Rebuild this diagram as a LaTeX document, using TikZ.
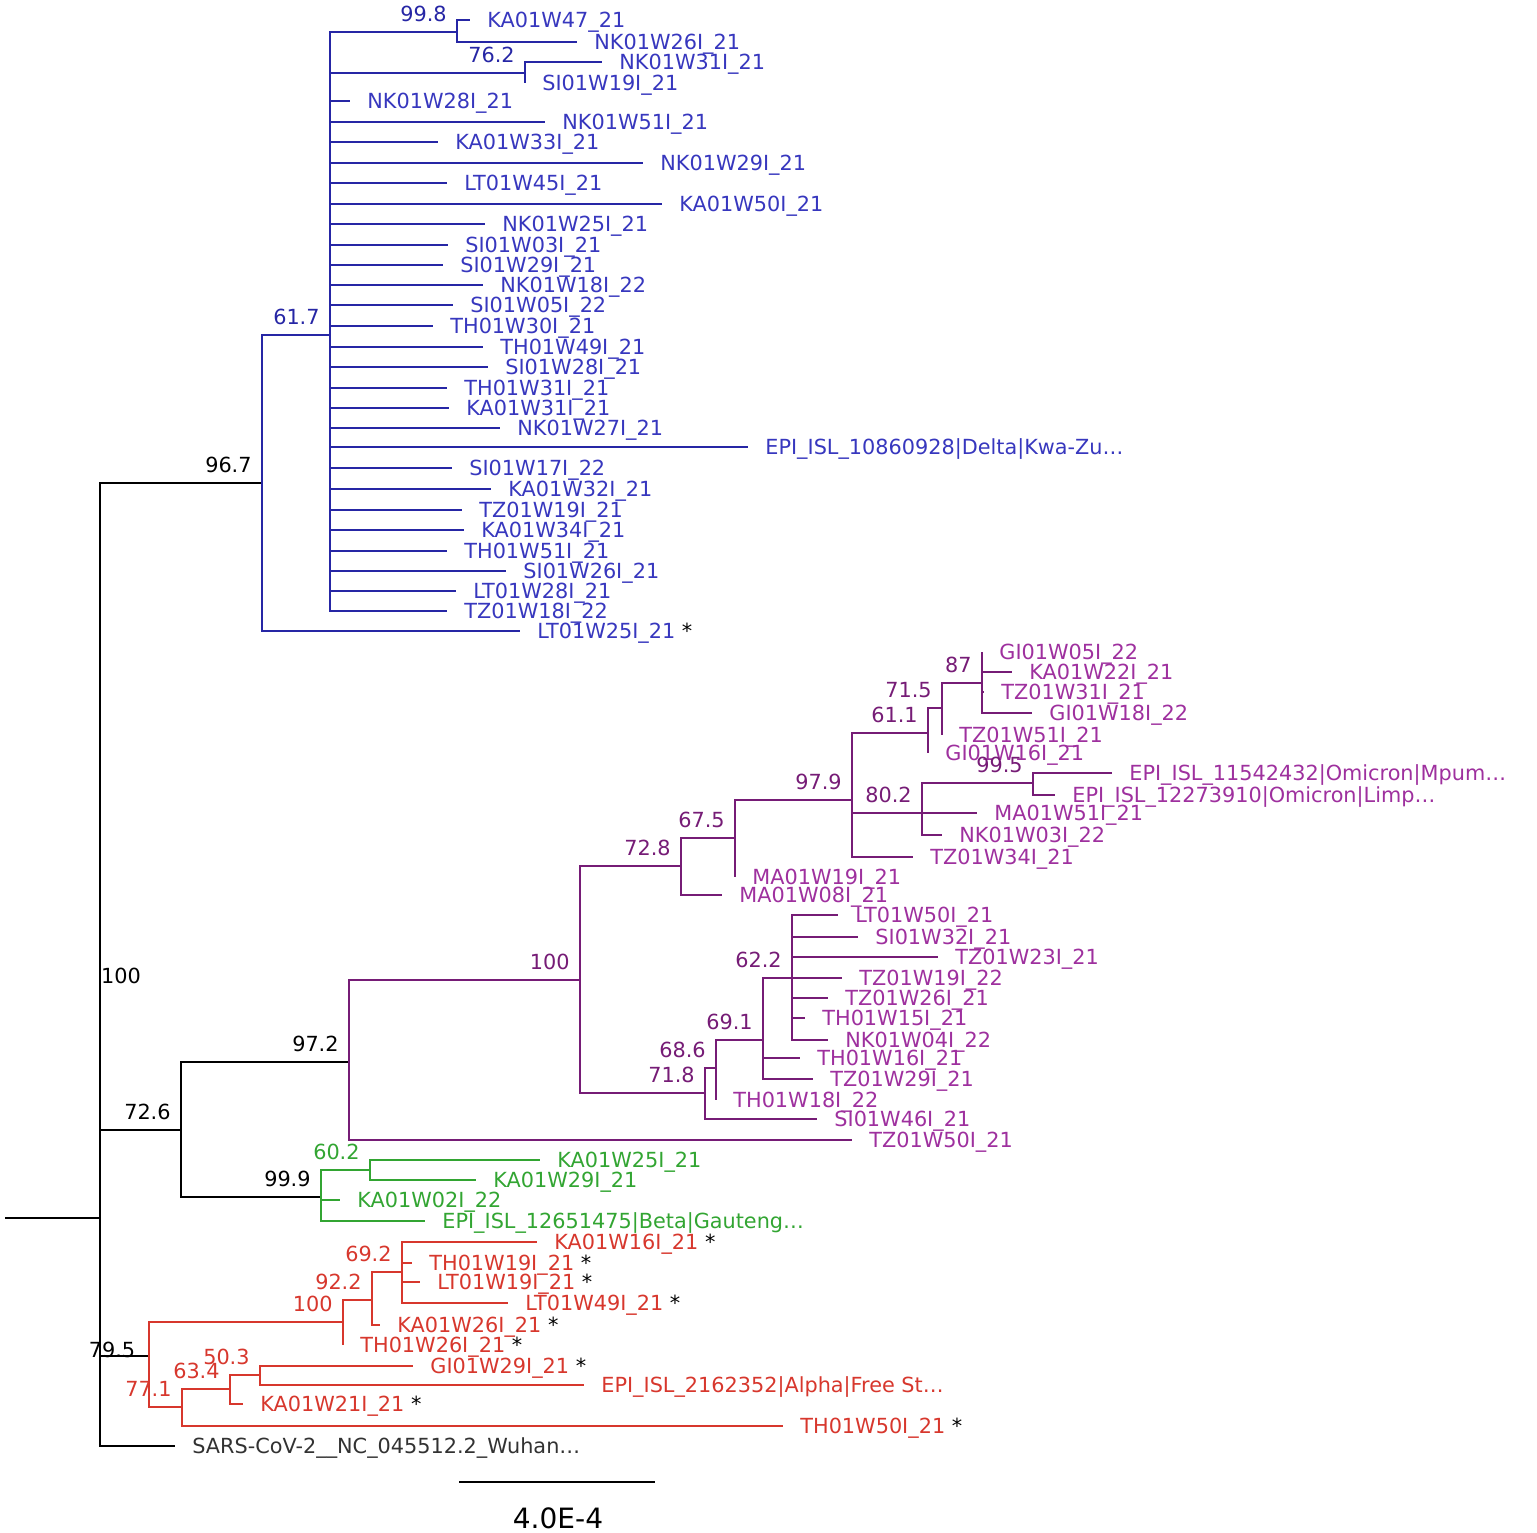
\documentclass[tikz,border=0pt]{standalone}
\usepackage{fontspec}
\setmainfont{DejaVu Sans}
\usepackage{tikz}
\definecolor{deltacol}{RGB}{38,38,165}
\definecolor{deltalab}{RGB}{55,55,190}
\definecolor{omicol}{RGB}{118,28,118}
\definecolor{omilab}{RGB}{158,48,158}
\definecolor{betacol}{RGB}{50,165,50}
\definecolor{alphacol}{RGB}{215,55,45}
\definecolor{outcol}{RGB}{50,50,50}
\newcommand*{\lab}{\fontsize{10.4}{12}\selectfont}
\newcommand*{\starmark}{\ \textcolor{black}{*}}

\begin{document}
\begin{tikzpicture}[x=0.5pt, y=-0.5pt, line width=1.4pt,
      leaf/.style={anchor=west, inner sep=0pt, inner xsep=8pt, text height=7.3pt, text depth=0pt, font=\lab},
      bs/.style={anchor=south east, inner sep=4.5pt, text depth=0pt, font=\lab}]
      \useasboundingbox (0,0) rectangle (1537,1532);

      % backbone
      \coordinate (root) at (5,1218);
      \coordinate (n_root) at (100,1218);
      \coordinate (n_967) at (262,483);
      \coordinate (n_726) at (181,1130);
      \coordinate (n_795) at (149,1356);
      \node[leaf, outcol] (SARS) at (175,1446) {SARS-CoV-2\_\_NC\_045512.2\_Wuhan…};
      \draw (root) -- (n_root);
      \draw (n_root) |- (n_967) (n_root) |- (n_726) (n_root) |- (n_795) (n_root) |- (SARS.west);
      \node[bs, anchor=center] (b_root) at (121,976) {100};
      \node[bs] (b_967) at (n_967) {96.7};
      \node[bs] (b_726) at (n_726) {72.6};
      \node[bs, anchor=center] (b_795) at (112,1350) {79.5};

      % Delta
      \coordinate (n_617) at (330,335);
      \coordinate (n_998) at (457,32);
      \coordinate (n_762) at (525,73);
      \node[leaf, deltalab] (KA01W47_21) at (470,20) {KA01W47\_21};
      \node[leaf, deltalab] (NK01W26I_21) at (577,42) {NK01W26I\_21};
      \node[leaf, deltalab] (NK01W31I_21) at (602,62) {NK01W31I\_21};
      \node[leaf, deltalab] (SI01W19I_21) at (525,83) {SI01W19I\_21};
      \node[leaf, deltalab] (NK01W28I_21) at (350,101) {NK01W28I\_21};
      \node[leaf, deltalab] (NK01W51I_21) at (545,122) {NK01W51I\_21};
      \node[leaf, deltalab] (KA01W33I_21) at (438,142) {KA01W33I\_21};
      \node[leaf, deltalab] (NK01W29I_21) at (643,163) {NK01W29I\_21};
      \node[leaf, deltalab] (LT01W45I_21) at (447,183) {LT01W45I\_21};
      \node[leaf, deltalab] (KA01W50I_21) at (662,204) {KA01W50I\_21};
      \node[leaf, deltalab] (NK01W25I_21) at (485,224) {NK01W25I\_21};
      \node[leaf, deltalab] (SI01W03I_21) at (448,245) {SI01W03I\_21};
      \node[leaf, deltalab] (SI01W29I_21) at (443,265) {SI01W29I\_21};
      \node[leaf, deltalab] (NK01W18I_22) at (483,285) {NK01W18I\_22};
      \node[leaf, deltalab] (SI01W05I_22) at (453,305) {SI01W05I\_22};
      \node[leaf, deltalab] (TH01W30I_21) at (433,326) {TH01W30I\_21};
      \node[leaf, deltalab] (TH01W49I_21) at (483,347) {TH01W49I\_21};
      \node[leaf, deltalab] (SI01W28I_21) at (488,367) {SI01W28I\_21};
      \node[leaf, deltalab] (TH01W31I_21) at (447,388) {TH01W31I\_21};
      \node[leaf, deltalab] (KA01W31I_21) at (449,408) {KA01W31I\_21};
      \node[leaf, deltalab] (NK01W27I_21) at (500,428) {NK01W27I\_21};
      \node[leaf, deltalab] (EPI_delta) at (748,447) {EPI\_ISL\_10860928|Delta|Kwa-Zu…};
      \node[leaf, deltalab] (SI01W17I_22) at (452,468) {SI01W17I\_22};
      \node[leaf, deltalab] (KA01W32I_21) at (491,489) {KA01W32I\_21};
      \node[leaf, deltalab] (TZ01W19I_21) at (462,510) {TZ01W19I\_21};
      \node[leaf, deltalab] (KA01W34I_21) at (464,530) {KA01W34I\_21};
      \node[leaf, deltalab] (TH01W51I_21) at (447,551) {TH01W51I\_21};
      \node[leaf, deltalab] (SI01W26I_21) at (506,571) {SI01W26I\_21};
      \node[leaf, deltalab] (LT01W28I_21) at (456,591) {LT01W28I\_21};
      \node[leaf, deltalab] (TZ01W18I_22) at (447,611) {TZ01W18I\_22};
      \node[leaf, deltalab] (LT01W25I_21) at (520,631) {LT01W25I\_21\starmark};
      \draw[deltacol] (n_967) |- (n_617) (n_967) |- (LT01W25I_21.west);
      \draw[deltacol] (n_998) |- (KA01W47_21.west) (n_998) |- (NK01W26I_21.west);
      \draw[deltacol] (n_762) |- (NK01W31I_21.west) (n_762) |- (SI01W19I_21.west);
      \draw[deltacol] (n_617) |- (n_998) (n_617) |- (n_762)
        (n_617) |- (NK01W28I_21.west) (n_617) |- (NK01W51I_21.west)
        (n_617) |- (KA01W33I_21.west) (n_617) |- (NK01W29I_21.west)
        (n_617) |- (LT01W45I_21.west) (n_617) |- (KA01W50I_21.west)
        (n_617) |- (NK01W25I_21.west) (n_617) |- (SI01W03I_21.west)
        (n_617) |- (SI01W29I_21.west) (n_617) |- (NK01W18I_22.west)
        (n_617) |- (SI01W05I_22.west) (n_617) |- (TH01W30I_21.west)
        (n_617) |- (TH01W49I_21.west) (n_617) |- (SI01W28I_21.west)
        (n_617) |- (TH01W31I_21.west) (n_617) |- (KA01W31I_21.west)
        (n_617) |- (NK01W27I_21.west) (n_617) |- (EPI_delta.west)
        (n_617) |- (SI01W17I_22.west) (n_617) |- (KA01W32I_21.west)
        (n_617) |- (TZ01W19I_21.west) (n_617) |- (KA01W34I_21.west)
        (n_617) |- (TH01W51I_21.west) (n_617) |- (SI01W26I_21.west)
        (n_617) |- (LT01W28I_21.west) (n_617) |- (TZ01W18I_22.west);
      \node[bs, deltacol] (b_617) at (n_617) {61.7};
      \node[bs, deltacol] (b_998) at (n_998) {99.8};
      \node[bs, deltacol] (b_762) at (n_762) {76.2};

      % Omicron
      \coordinate (n_972) at (349,1062);
      \coordinate (n_100p) at (580,980);
      \coordinate (n_728) at (681,866);
      \coordinate (n_675) at (735,838);
      \coordinate (n_979) at (852,800);
      \coordinate (n_611) at (928,733);
      \coordinate (n_715) at (942,708);
      \coordinate (n_87) at (982,683);
      \coordinate (n_802) at (922,813);
      \coordinate (n_995) at (1033,783);
      \coordinate (n_718) at (705,1093);
      \coordinate (n_686) at (716,1068);
      \coordinate (n_691) at (763,1040);
      \coordinate (n_622) at (792,978);
      \node[leaf, omilab] (GI01W05I_22) at (982,652) {GI01W05I\_22};
      \node[leaf, omilab] (KA01W22I_21) at (1012,672) {KA01W22I\_21};
      \node[leaf, omilab] (TZ01W31I_21) at (984,692) {TZ01W31I\_21};
      \node[leaf, omilab] (GI01W18I_22) at (1032,713) {GI01W18I\_22};
      \node[leaf, omilab] (TZ01W51I_21) at (942,735) {TZ01W51I\_21};
      \node[leaf, omilab] (GI01W16I_21) at (928,753) {GI01W16I\_21};
      \node[leaf, omilab] (EPI_omi1) at (1112,773) {EPI\_ISL\_11542432|Omicron|Mpum…};
      \node[leaf, omilab] (EPI_omi2) at (1055,795) {EPI\_ISL\_12273910|Omicron|Limp…};
      \node[leaf, omilab] (MA01W51I_21) at (977,813) {MA01W51I\_21};
      \node[leaf, omilab] (NK01W03I_22) at (942,835) {NK01W03I\_22};
      \node[leaf, omilab] (TZ01W34I_21) at (913,857) {TZ01W34I\_21};
      \node[leaf, omilab] (MA01W19I_21) at (735,877) {MA01W19I\_21};
      \node[leaf, omilab] (MA01W08I_21) at (722,895) {MA01W08I\_21};
      \node[leaf, omilab] (LT01W50I_21) at (838,915) {LT01W50I\_21};
      \node[leaf, omilab] (SI01W32I_21) at (858,937) {SI01W32I\_21};
      \node[leaf, omilab] (TZ01W23I_21) at (938,957) {TZ01W23I\_21};
      \node[leaf, omilab] (TZ01W19I_22) at (842,978) {TZ01W19I\_22};
      \node[leaf, omilab] (TZ01W26I_21) at (828,998) {TZ01W26I\_21};
      \node[leaf, omilab] (TH01W15I_21) at (805,1018) {TH01W15I\_21};
      \node[leaf, omilab] (NK01W04I_22) at (828,1040) {NK01W04I\_22};
      \node[leaf, omilab] (TH01W16I_21) at (800,1058) {TH01W16I\_21};
      \node[leaf, omilab] (TZ01W29I_21) at (813,1079) {TZ01W29I\_21};
      \node[leaf, omilab] (TH01W18I_22) at (716,1100) {TH01W18I\_22};
      \node[leaf, omilab] (SI01W46I_21) at (817,1119) {SI01W46I\_21};
      \node[leaf, omilab] (TZ01W50I_21) at (852,1140) {TZ01W50I\_21};
      \draw (n_726) |- (n_972);
      \draw[omicol] (n_972) |- (n_100p) (n_972) |- (TZ01W50I_21.west);
      \draw[omicol] (n_100p) |- (n_728) (n_100p) |- (n_718);
      \draw[omicol] (n_728) |- (n_675) (n_728) |- (MA01W08I_21.west);
      \draw[omicol] (n_675) |- (n_979) (n_675) |- (MA01W19I_21.west);
      \draw[omicol] (n_979) |- (n_611) (n_979) |- (n_802) (n_979) |- (TZ01W34I_21.west);
      \draw[omicol] (n_611) |- (n_715) (n_611) |- (GI01W16I_21.west);
      \draw[omicol] (n_715) |- (n_87) (n_715) |- (TZ01W51I_21.west);
      \draw[omicol] (n_87) |- (GI01W05I_22.west) (n_87) |- (KA01W22I_21.west)
        (n_87) |- (TZ01W31I_21.west) (n_87) |- (GI01W18I_22.west);
      \draw[omicol] (n_802) |- (n_995) (n_802) |- (MA01W51I_21.west) (n_802) |- (NK01W03I_22.west);
      \draw[omicol] (n_995) |- (EPI_omi1.west) (n_995) |- (EPI_omi2.west);
      \draw[omicol] (n_718) |- (n_686) (n_718) |- (SI01W46I_21.west);
      \draw[omicol] (n_686) |- (n_691) (n_686) |- (TH01W18I_22.west);
      \draw[omicol] (n_691) |- (n_622) (n_691) |- (TH01W16I_21.west) (n_691) |- (TZ01W29I_21.west);
      \draw[omicol] (n_622) |- (LT01W50I_21.west) (n_622) |- (SI01W32I_21.west)
        (n_622) |- (TZ01W23I_21.west) (n_622) |- (TZ01W19I_22.west)
        (n_622) |- (TZ01W26I_21.west) (n_622) |- (TH01W15I_21.west)
        (n_622) |- (NK01W04I_22.west);
      \node[bs] (b_972) at (n_972) {97.2};
      \node[bs, omicol] (b_100p) at (n_100p) {100};
      \node[bs, omicol] (b_728) at (n_728) {72.8};
      \node[bs, omicol] (b_675) at (n_675) {67.5};
      \node[bs, omicol] (b_979) at (n_979) {97.9};
      \node[bs, omicol] (b_611) at (n_611) {61.1};
      \node[bs, omicol] (b_715) at (n_715) {71.5};
      \node[bs, omicol] (b_87) at (n_87) {87};
      \node[bs, omicol] (b_802) at (n_802) {80.2};
      \node[bs, omicol] (b_995) at (n_995) {99.5};
      \node[bs, omicol] (b_718) at (n_718) {71.8};
      \node[bs, omicol] (b_686) at (n_686) {68.6};
      \node[bs, omicol] (b_691) at (n_691) {69.1};
      \node[bs, omicol] (b_622) at (n_622) {62.2};

      % Beta
      \coordinate (n_999) at (321,1197);
      \coordinate (n_602) at (370,1170);
      \node[leaf, betacol] (KA01W25I_21) at (540,1160) {KA01W25I\_21};
      \node[leaf, betacol] (KA01W29I_21) at (476,1180) {KA01W29I\_21};
      \node[leaf, betacol] (KA01W02I_22) at (340,1200) {KA01W02I\_22};
      \node[leaf, betacol] (EPI_beta) at (425,1221) {EPI\_ISL\_12651475|Beta|Gauteng…};
      \draw (n_726) |- (n_999);
      \draw[betacol] (n_999) |- (n_602) (n_999) |- (KA01W02I_22.west) (n_999) |- (EPI_beta.west);
      \draw[betacol] (n_602) |- (KA01W25I_21.west) (n_602) |- (KA01W29I_21.west);
      \node[bs] (b_999) at (n_999) {99.9};
      \node[bs, betacol] (b_602) at (n_602) {60.2};

      % Alpha
      \coordinate (n_100a) at (343,1322);
      \coordinate (n_922) at (372,1300);
      \coordinate (n_692) at (402,1272);
      \coordinate (n_771) at (182,1407);
      \coordinate (n_634) at (230,1389);
      \coordinate (n_503) at (260,1375);
      \node[leaf, alphacol] (KA01W16I_21) at (537,1242) {KA01W16I\_21\starmark};
      \node[leaf, alphacol] (TH01W19I_21) at (412,1263) {TH01W19I\_21\starmark};
      \node[leaf, alphacol] (LT01W19I_21) at (420,1282) {LT01W19I\_21\starmark};
      \node[leaf, alphacol] (LT01W49I_21) at (508,1303) {LT01W49I\_21\starmark};
      \node[leaf, alphacol] (KA01W26I_21) at (380,1325) {KA01W26I\_21\starmark};
      \node[leaf, alphacol] (TH01W26I_21) at (343,1345) {TH01W26I\_21\starmark};
      \node[leaf, alphacol] (GI01W29I_21) at (413,1366) {GI01W29I\_21\starmark};
      \node[leaf, alphacol] (EPI_alpha) at (584,1385) {EPI\_ISL\_2162352|Alpha|Free St…};
      \node[leaf, alphacol] (KA01W21I_21) at (243,1404) {KA01W21I\_21\starmark};
      \node[leaf, alphacol] (TH01W50I_21) at (783,1426) {TH01W50I\_21\starmark};
      \draw[alphacol] (n_795) |- (n_100a) (n_795) |- (n_771);
      \draw[alphacol] (n_100a) |- (n_922) (n_100a) |- (TH01W26I_21.west);
      \draw[alphacol] (n_922) |- (n_692) (n_922) |- (KA01W26I_21.west);
      \draw[alphacol] (n_692) |- (KA01W16I_21.west) (n_692) |- (TH01W19I_21.west)
        (n_692) |- (LT01W19I_21.west) (n_692) |- (LT01W49I_21.west);
      \draw[alphacol] (n_771) |- (n_634) (n_771) |- (TH01W50I_21.west);
      \draw[alphacol] (n_634) |- (n_503) (n_634) |- (KA01W21I_21.west);
      \draw[alphacol] (n_503) |- (GI01W29I_21.west) (n_503) |- (EPI_alpha.west);
      \node[bs, alphacol] (b_100a) at (n_100a) {100};
      \node[bs, alphacol] (b_922) at (n_922) {92.2};
      \node[bs, alphacol] (b_692) at (n_692) {69.2};
      \node[bs, alphacol] (b_771) at (n_771) {77.1};
      \node[bs, alphacol] (b_634) at (n_634) {63.4};
      \node[bs, alphacol] (b_503) at (n_503) {50.3};

      % scale bar
      \coordinate (sb_l) at (459,1482);
      \coordinate (sb_r) at (655,1482);
      \draw (sb_l) -- (sb_r);
      \node[font=\fontsize{14}{16}\selectfont] (sb_lab) at (558,1518) {4.0E-4};
    \end{tikzpicture}
\end{document}
